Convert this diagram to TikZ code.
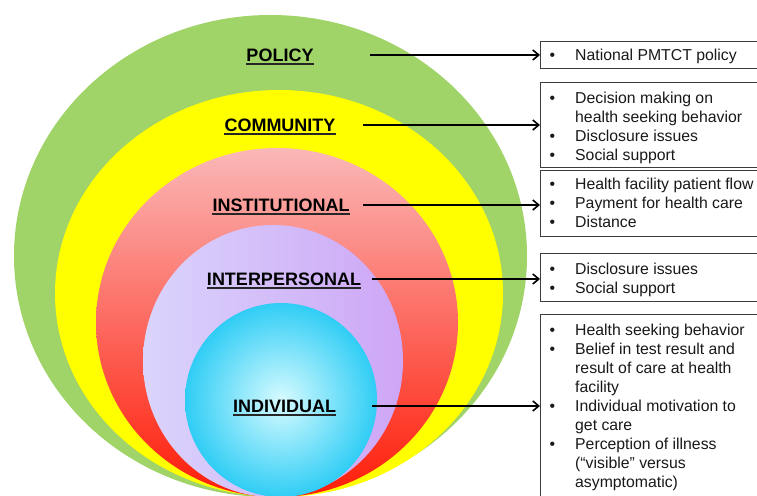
\documentclass[tikz,border=0pt]{standalone}
\usepackage{fontspec}
\setmainfont{Liberation Sans}
\usetikzlibrary{arrows.meta}
\definecolor{lgreen}{RGB}{160,211,104}
\definecolor{lyellow}{RGB}{255,255,0}
\definecolor{redtop}{RGB}{250,184,184}
\definecolor{redbot}{RGB}{255,28,8}
\definecolor{purpleleft}{RGB}{218,212,252}
\definecolor{purpleright}{RGB}{206,166,246}
\definecolor{cyaninner}{RGB}{215,251,255}
\definecolor{cyanouter}{RGB}{48,205,245}
\definecolor{boxgray}{RGB}{60,60,60}
\definecolor{textgray}{RGB}{25,25,25}
\begin{document}
\begin{tikzpicture}[x=1pt,y=-1pt,
  lvl/.style={font=\fontsize{18}{20}\selectfont\bfseries, inner sep=0pt, anchor=base, text=black},
  uline/.style={line width=1.4pt, black!85},
  infobox/.style={draw=boxgray, line width=1.2pt, anchor=north west, minimum width=260pt, inner sep=0pt},
  infotext/.style={font=\fontsize{15.8}{19}\selectfont, inner sep=0pt, anchor=base west, text=textgray},
  link/.style={line width=2pt, -{Straight Barb[length=6pt,width=10pt,line width=1.6pt]}}
]
\useasboundingbox (0,0) rectangle (757,495);
\clip (0,0) rectangle (757,495);
\fill[white] (0,0) rectangle (757,495);

% nested ellipses
\fill[lgreen] (270.5,256) ellipse [x radius=256.5pt, y radius=241pt];
\fill[lyellow] (279,293.5) ellipse [x radius=224pt, y radius=203.5pt];
\shade[top color=redtop, bottom color=redbot] (277,322.5) ellipse [x radius=181pt, y radius=174.5pt];
\shade[left color=purpleleft, right color=purpleright] (273,361) ellipse [x radius=130pt, y radius=136pt];
\shade[inner color=cyaninner, outer color=cyanouter] (281,400) ellipse [x radius=96pt, y radius=97pt];

% level labels
\node[lvl] (policy) at (280,61.5) {POLICY};
\node[lvl] (community) at (280,131.5) {COMMUNITY};
\node[lvl] (institutional) at (281,211.5) {INSTITUTIONAL};
\node[lvl] (interpersonal) at (284,285.5) {INTERPERSONAL};
\node[lvl] (individual) at (284.5,412.5) {INDIVIDUAL};
\foreach \n in {policy,community,institutional,interpersonal,individual}
  \draw[uline] ([yshift=-2.6pt]\n.base west) -- ([yshift=-2.6pt]\n.base east);

% boxes
\node[infobox, minimum height=27pt] (b1) at (540,41) {};
\node[infobox, minimum height=85pt] (b2) at (540,82) {};
\node[infobox, minimum height=66pt] (b3) at (540,170) {};
\node[infobox, minimum height=48pt] (b4) at (540,253) {};
\node[infobox, minimum height=206pt] (b5) at (540,314) {};

% box texts
\node[infotext] (t1) at (549.5,60) {\begin{tabular}[t]{@{}p{25.5pt}@{}l@{}}
\textbullet & National PMTCT policy\end{tabular}};
\node[infotext] (t2) at (549.5,103.5) {\begin{tabular}[t]{@{}p{25.5pt}@{}l@{}}
\textbullet & Decision making on\\
 & health seeking behavior\\
\textbullet & Disclosure issues\\
\textbullet & Social support\end{tabular}};
\node[infotext] (t3) at (549.5,189) {\begin{tabular}[t]{@{}p{25.5pt}@{}l@{}}
\textbullet & Health facility patient flow\\
\textbullet & Payment for health care\\
\textbullet & Distance\end{tabular}};
\node[infotext] (t4) at (549.5,274) {\begin{tabular}[t]{@{}p{25.5pt}@{}l@{}}
\textbullet & Disclosure issues\\
\textbullet & Social support\end{tabular}};
\node[infotext] (t5) at (549.5,335) {\begin{tabular}[t]{@{}p{25.5pt}@{}l@{}}
\textbullet & Health seeking behavior\\
\textbullet & Belief in test result and\\
 & result of care at health\\
 & facility\\
\textbullet & Individual motivation to\\
 & get care\\
\textbullet & Perception of illness\\
 & (“visible” versus\\
 & asymptomatic)\end{tabular}};

% arrows
\coordinate (s1) at (370,55);
\coordinate (s2) at (363,125);
\coordinate (s3) at (363,205);
\coordinate (s4) at (372,279);
\coordinate (s5) at (372,406);
\draw[link] (s1) -- (s1 -| b1.west);
\draw[link] (s2) -- (s2 -| b2.west);
\draw[link] (s3) -- (s3 -| b3.west);
\draw[link] (s4) -- (s4 -| b4.west);
\draw[link] (s5) -- (s5 -| b5.west);
\end{tikzpicture}
\end{document}
